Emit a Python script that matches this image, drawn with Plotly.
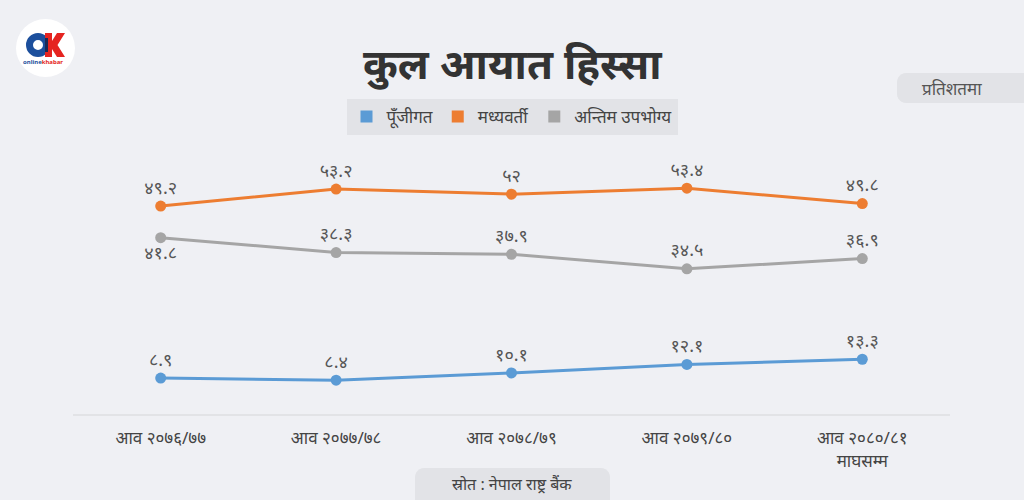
import plotly.graph_objects as go

categories = ["आव २०७६/७७", "आव २०७७/७८", "आव २०७८/७९", "आव २०७९/८०", "आव २०८०/८१<br>माघसम्म"]
series_names = ["पूँजीगत", "मध्यवर्ती", "अन्तिम उपभोग्य"]
capital = [8.9, 8.4, 10.1, 12.1, 13.3]
intermediate = [49.2, 53.2, 52, 53.4, 49.8]
final_consumption = [41.8, 38.3, 37.9, 34.5, 36.9]
colors = ["#5b9bd5", "#ed7d31", "#a5a5a5"]

title_text = "कुल आयात हिस्सा"
unit_text = "प्रतिशतमा"
source_text = "स्रोत : नेपाल राष्ट्र बैंक"

DEV = str.maketrans("0123456789", "०१२३४५६७८९")
def dev(v):
    return f"{v:g}".translate(DEV)

BG = "#eff0f4"
BOX = "#e2e3e7"
FONT = "Noto Sans, Lato, sans-serif"

W, H = 1024, 500
L, R, T, B = 73, 74, 158, 86
PW, PH = W - L - R, H - T - B

def px(x):
    return (x - L) / PW

def py(y):
    return (H - B - y) / PH

x = list(range(len(categories)))
fig = go.Figure()

series = [capital, intermediate, final_consumption]
positions = [
    ["top center"] * 5,
    ["top center"] * 5,
    ["bottom center"] + ["top center"] * 4,
]
for name, vals, col, pos in zip(series_names, series, colors, positions):
    fig.add_trace(go.Scatter(
        x=x, y=vals, mode="lines+markers+text", name=name,
        line=dict(color=col, width=3), marker=dict(color=col, size=11),
        text=[dev(v) for v in vals], textposition=pos,
        textfont=dict(family=FONT, size=18, color="#555555"),
        showlegend=False, cliponaxis=False, hoverinfo="skip",
    ))
for name, col in zip(series_names, colors):
    fig.add_trace(go.Scatter(
        x=[None], y=[None], mode="markers", name=name,
        marker=dict(symbol="square", color=col, size=15), showlegend=True,
    ))

def rpath(pts):
    return "M" + " L".join(f"{px(a)},{py(b)}" for a, b in pts) + " Z"

def rounded(x0, y0, x1, y1, r, top_only=False):
    import math
    pts = []
    def arc(cx, cy, a0, a1, n=6):
        for i in range(n + 1):
            a = math.radians(a0 + (a1 - a0) * i / n)
            pts.append((cx + r * math.cos(a), cy + r * math.sin(a)))
    arc(x0 + r, y0 + r, 180, 270)
    arc(x1 - r, y0 + r, 270, 360)
    if top_only:
        pts.append((x1, y1)); pts.append((x0, y1))
    else:
        arc(x1 - r, y1 - r, 0, 90)
        arc(x0 + r, y1 - r, 90, 180)
    return rpath(pts)

shapes = [
    dict(type="path", xref="paper", yref="paper", path=rounded(897, 73, 1040, 103, 9),
         fillcolor=BOX, line=dict(width=0), layer="below"),
    dict(type="path", xref="paper", yref="paper", path=rounded(415, 468, 610, 505, 9, top_only=True),
         fillcolor=BOX, line=dict(width=0), layer="below"),
    # logo
    dict(type="circle", xref="paper", yref="paper", x0=px(16), x1=px(75), y0=py(19), y1=py(77),
         fillcolor="white", line=dict(width=0)),
    dict(type="circle", xref="paper", yref="paper", x0=px(29.5), x1=px(46.5), y0=py(36.5), y1=py(53.5),
         fillcolor="rgba(0,0,0,0)", line=dict(color="#1c4f9c", width=7)),
    dict(type="path", xref="paper", yref="paper",
         path=rpath([(45, 33), (52, 33), (52, 41), (57, 33), (65, 33), (57.5, 45), (65, 57), (57, 57),
                     (52, 49), (52, 57), (45, 57)]),
         fillcolor="#e52420", line=dict(width=0)),
    dict(type="path", xref="paper", yref="paper",
         path=rpath([(45, 38), (48, 38), (48, 52), (45, 52)]),
         fillcolor="#1b2a55", line=dict(width=0)),
]

annotations = [
    dict(text=f"<b>{title_text}</b>", x=px(512), y=py(62), xref="paper", yref="paper",
         showarrow=False, font=dict(family=FONT, size=42, color="#333333"), xanchor="center", yanchor="middle"),
    dict(text=unit_text, x=px(952), y=py(88), xref="paper", yref="paper",
         showarrow=False, font=dict(family=FONT, size=17, color="#555555"), xanchor="center", yanchor="middle"),
    dict(text=source_text, x=px(512), y=py(484), xref="paper", yref="paper",
         showarrow=False, font=dict(family=FONT, size=16, color="#444444"), xanchor="center", yanchor="middle"),
    dict(text="<b><span style='color:#1c4f9c'>online</span><span style='color:#e52420'>khabar</span></b>",
         x=px(43), y=py(62), xref="paper", yref="paper", showarrow=False,
         font=dict(family=FONT, size=6), xanchor="center", yanchor="middle"),
]

fig.update_layout(
    width=W, height=H, paper_bgcolor=BG, plot_bgcolor=BG,
    margin=dict(l=L, r=R, t=T, b=B),
    showlegend=True,
    legend=dict(orientation="h", x=px(512), y=py(117), xanchor="center", yanchor="middle",
                bgcolor=BOX, font=dict(family=FONT, size=17, color="#444444"),
                itemsizing="constant", itemwidth=30, tracegroupgap=0),
    shapes=shapes, annotations=annotations,
    xaxis=dict(range=[-0.5, 4.5], tickmode="array", tickvals=x, ticktext=categories,
               showgrid=False, zeroline=False, showline=True, linecolor="#e2e3e6", linewidth=2,
               ticks="", ticklabelstandoff=8,
               tickfont=dict(family=FONT, size=17, color="#444444"), fixedrange=True),
    yaxis=dict(range=[0.47, 60.47], visible=False, fixedrange=True),
)

fig.write_html(
    "out.html",
    config={"displayModeBar": False},
    post_script="document.body.style.margin='0';document.body.style.overflow='hidden';"
                "document.body.style.background='" + BG + "';",
)
